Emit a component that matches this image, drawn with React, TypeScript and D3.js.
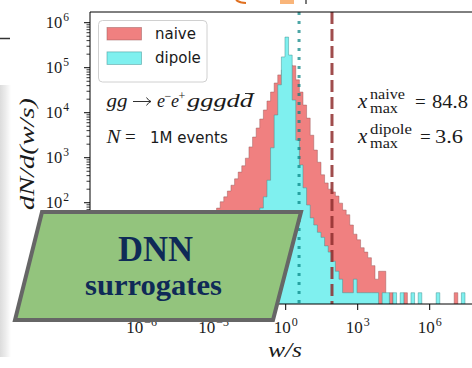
import React from "react";
import * as d3 from "d3";

// log-spaced histogram bins: start 10^-4.53, width 0.15 decade
const binLogStart = -4.53;
const binLogWidth = 0.15;

const naiveCounts = [
  1, 2, 3, 4, 6, 9, 13, 19, 28, 40,
  59, 76, 105, 135, 182, 245, 339, 479, 661, 977,
  1740, 2880, 4570, 7240, 11500, 18200, 28800, 45700, 69200, 89100,
  100000, 115000, 110000, 53700, 28800, 14800, 7590, 3160, 1480, 794,
  417, 275, 200, 174, 141, 98, 69, 54, 32, 20,
  15, 10, 8, 6, 4, 2, 3, 3, 0, 1,
  0, 0, 0, 1, 0, 0, 0, 0, 0, 0,
  0, 0, 0, 0, 0, 0, 0, 1, 0, 0,
];
const dipoleCounts = [
  0, 0, 0, 0, 0, 0, 0, 0, 0, 0,
  0, 0, 0, 1, 0, 1, 1, 2, 4, 6,
  10, 20, 40, 76, 135, 316, 1660, 8910, 41700, 174000,
  479000, 191000, 19100, 2450, 692, 214, 89, 46, 32, 22,
  17, 11, 8, 5, 3, 2, 1, 1, 1, 2,
  1, 1, 1, 1, 1, 1, 0, 1, 1, 0,
  1, 0, 1, 0, 0, 1, 0, 1, 0, 0,
  0, 0, 1, 0, 0, 0, 0, 0, 0, 1,
];

const xTickExps = [-6, -3, 0, 3, 6];
const yTickExps = [0, 1, 2, 3, 4, 5, 6];
const xmaxNaive = 84.8;
const xmaxDipole = 3.6;
const legendLabels = ["naive", "dipole"];
const seriesColors = ["#f08080", "#7ff0ef"];

const SERIF = "'Liberation Serif', 'DejaVu Serif', serif";
const SANS = "'DejaVu Sans', sans-serif";
const INK = "#1a1a1a";

export default function App() {
  const left = 90, right = 482, top = 12, bottom = 304;
  const x = d3.scaleLog().domain([10 ** -8.154, 10 ** 8.179]).range([left, right]);
  const y = d3.scaleLog().domain([10 ** -0.25, 10 ** 6.238]).range([bottom, top]);
  const edges = d3.range(naiveCounts.length + 1).map((k) => 10 ** (binLogStart + k * binLogWidth));

  const histPath = (counts: number[]) => {
    const p = d3.path();
    p.moveTo(x(edges[0]), bottom + 1);
    counts.forEach((c, i) => {
      const yy = c > 0 ? y(c) : bottom + 1;
      p.lineTo(x(edges[i]), yy);
      p.lineTo(x(edges[i + 1]), yy);
    });
    p.lineTo(x(edges[edges.length - 1]), bottom + 1);
    p.closePath();
    return p.toString();
  };

  const minorTicks: number[] = [];
  for (let k = -1; k <= 6; k++) {
    for (let m = 2; m <= 9; m++) {
      const v = m * 10 ** k;
      const yy = y(v);
      if (yy >= top && yy <= bottom) minorTicks.push(v);
    }
  }

  const expLabel = (e: number) => (e < 0 ? "\u2212" + Math.abs(e) : String(e));

  return (
    <svg
      width={472}
      height={368}
      style={{ position: "absolute", left: 0, top: 0, background: "#fff" }}
    >
      <defs>
        <clipPath id="plotclip">
          <rect x={left} y={top} width={right - left} height={bottom - top} />
        </clipPath>
        <linearGradient id="strip" x1="0" x2="1" y1="0" y2="0">
          <stop offset="0" stopColor="#dcdcdc" />
          <stop offset="0.5" stopColor="#ececec" />
          <stop offset="1" stopColor="#ffffff" />
        </linearGradient>
      </defs>
      <rect x={0} y={0} width={472} height={368} fill="#fff" />

      {/* slide decorations */}
      <rect x={0} y={85} width={11} height={272} fill="url(#strip)" />
      <line x1={0} x2={10} y1={38.5} y2={38.5} stroke="#333" strokeWidth={1.5} />
      <path d="M236,0 Q240,3 246,3" stroke="#e07020" strokeWidth={2} fill="none" />
      <rect x={280} y={0} width={14} height={4} fill="#f9b57a" />
      <line x1={306} x2={306} y1={0} y2={4} stroke="#222" strokeWidth={1.2} />

      {/* histograms */}
      <g clipPath="url(#plotclip)">
        <path d={histPath(naiveCounts)} fill={seriesColors[0]} stroke="#9a5a5a" strokeOpacity={0.6} strokeWidth={0.8} />
        <path d={histPath(dipoleCounts)} fill={seriesColors[1]} stroke="#3a8f8f" strokeOpacity={0.6} strokeWidth={0.8} />
        <line x1={x(xmaxDipole)} x2={x(xmaxDipole)} y1={top} y2={bottom} stroke="#008080" strokeOpacity={0.7} strokeWidth={3} strokeDasharray="3,6" />
        <line x1={x(xmaxNaive)} x2={x(xmaxNaive)} y1={top} y2={bottom} stroke="#8f2e2e" strokeOpacity={0.85} strokeWidth={3} strokeDasharray="12,5" />
      </g>

      {/* spines */}
      <line x1={left} x2={right} y1={top} y2={top} stroke="#000" strokeWidth={1} />
      <line x1={left} x2={right} y1={bottom} y2={bottom} stroke="#000" strokeWidth={1} />
      <line x1={left} x2={left} y1={top} y2={bottom} stroke="#000" strokeWidth={1} />

      {/* y ticks */}
      {minorTicks.map((v, i) => (
        <line key={"m" + i} x1={left - 3.5} x2={left} y1={y(v)} y2={y(v)} stroke="#000" strokeWidth={0.8} />
      ))}
      {yTickExps.map((e) => (
        <g key={"y" + e}>
          <line x1={left - 6} x2={left} y1={y(10 ** e)} y2={y(10 ** e)} stroke="#000" strokeWidth={1} />
          <text x={69} y={y(10 ** e) + 5} textAnchor="end" fontFamily={SERIF} fontSize={16.5} fill={INK}>
            <tspan>10</tspan>
            <tspan fontSize={11.5} dy={-7} dx={1}>{expLabel(e)}</tspan>
          </text>
        </g>
      ))}

      {/* x ticks */}
      {xTickExps.map((e) => (
        <g key={"x" + e}>
          <line x1={x(10 ** e)} x2={x(10 ** e)} y1={bottom} y2={bottom + 6} stroke="#000" strokeWidth={1} />
          <text x={x(10 ** e)} y={333} textAnchor="middle" fontFamily={SERIF} fontSize={17} fill={INK}>
            <tspan>10</tspan>
            <tspan fontSize={12} dy={-7.5} dx={1}>{expLabel(e)}</tspan>
          </text>
        </g>
      ))}

      {/* axis labels */}
      <text x={285} y={357} textAnchor="middle" fontFamily={SERIF} fontStyle="italic" fontSize={21} textLength={34} lengthAdjust="spacingAndGlyphs" fill={INK}>
        w/s
      </text>
      <text transform="translate(34,154) rotate(-90)" textAnchor="middle" fontFamily={SERIF} fontStyle="italic" fontSize={22} textLength={112} lengthAdjust="spacingAndGlyphs" fill={INK}>
        dN/d(w/s)
      </text>

      {/* legend */}
      <rect x={98.5} y={20.5} width={108.5} height={61.5} rx={4} fill="#fff" fillOpacity={0.8} stroke="#d0d0d0" strokeWidth={1} />
      {legendLabels.map((lab, i) => (
        <g key={lab}>
          <rect x={107} y={27.5 + i * 24.4} width={34.5} height={12.5} fill={seriesColors[i]} stroke={i === 0 ? "#9a5a5a" : "#3a8f8f"} strokeOpacity={0.6} strokeWidth={0.8} />
          <text x={155} y={39 + i * 24} fontFamily={SANS} fontSize={15} fill={INK}>{lab}</text>
        </g>
      ))}

      {/* process annotation */}
      <g fontFamily={SERIF} fontSize={18} fill={INK}>
        <text x={106.5} y={107} fontStyle="italic" textLength={21} lengthAdjust="spacingAndGlyphs">gg</text>
        <path d="M133,101.5 H150.5 M146.5,97.5 Q148.5,100.8 151,101.5 Q148.5,102.2 146.5,105.5" stroke={INK} strokeWidth={0.9} fill="none" />
        <text x={157} y={107} fontStyle="italic">e</text>
        <text x={164.5} y={100} fontSize={12}>−</text>
        <text x={171} y={107} fontStyle="italic">e</text>
        <text x={178.5} y={100} fontSize={12}>+</text>
        <text x={187} y={107} fontStyle="italic" textLength={66} lengthAdjust="spacingAndGlyphs">gggdd</text>
        <line x1={245} x2={254.5} y1={93.5} y2={93.5} stroke={INK} strokeWidth={0.9} />
      </g>
      <g fill={INK}>
        <text x={106.5} y={143} fontFamily={SERIF} fontStyle="italic" fontSize={19} textLength={14} lengthAdjust="spacingAndGlyphs">N</text>
        <text x={125} y={143} fontFamily={SERIF} fontSize={19}>=</text>
        <text x={150} y={143} fontFamily={SANS} fontSize={15}>1M events</text>
      </g>

      {/* x_max annotations */}
      <g fontFamily={SERIF} fill={INK}>
        <text x={358} y={108} fontStyle="italic" fontSize={21}>x</text>
        <text x={370} y={99} fontSize={14} textLength={35} lengthAdjust="spacingAndGlyphs">naive</text>
        <text x={370} y={113} fontSize={14} textLength={28} lengthAdjust="spacingAndGlyphs">max</text>
        <text x={415} y={108} fontSize={19}>=</text>
        <text x={432} y={108} fontSize={19} textLength={36} lengthAdjust="spacingAndGlyphs">{String(xmaxNaive)}</text>

        <text x={358} y={143} fontStyle="italic" fontSize={21}>x</text>
        <text x={370} y={134} fontSize={14} textLength={42} lengthAdjust="spacingAndGlyphs">dipole</text>
        <text x={370} y={148} fontSize={14} textLength={28} lengthAdjust="spacingAndGlyphs">max</text>
        <text x={420} y={143} fontSize={19}>=</text>
        <text x={435} y={143} fontSize={19} textLength={28} lengthAdjust="spacingAndGlyphs">{String(xmaxDipole)}</text>
      </g>

      {/* DNN surrogates overlay */}
      <polygon points="42,212 301,212 273,320 15,320" fill="#93c47d" stroke="#666666" strokeWidth={4} strokeLinejoin="miter" />
      <text x={155.5} y={261} textAnchor="middle" fontFamily={SERIF} fontWeight="bold" fontSize={35} textLength={75} lengthAdjust="spacingAndGlyphs" fill="#0f2a57">
        DNN
      </text>
      <text x={153.5} y={295} textAnchor="middle" fontFamily={SERIF} fontWeight="bold" fontSize={29} textLength={137} lengthAdjust="spacingAndGlyphs" fill="#0f2a57">
        surrogates
      </text>
    </svg>
  );
}
